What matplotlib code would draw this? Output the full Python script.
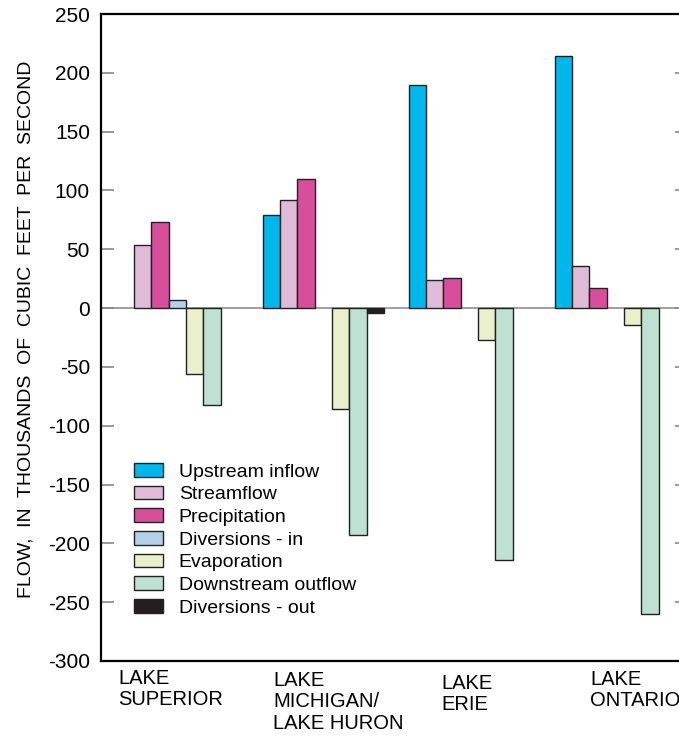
import numpy as np
import matplotlib
matplotlib.use('Agg')
import matplotlib.pyplot as plt
from matplotlib.patches import Patch

plt.rcParams['font.family'] = ['Liberation Sans', 'DejaVu Sans']
plt.rcParams['axes.unicode_minus'] = False

lakes = ['LAKE\nSUPERIOR', 'LAKE\nMICHIGAN/\nLAKE HURON', 'LAKE\nERIE', 'LAKE\nONTARIO']
components = ['Upstream inflow', 'Streamflow', 'Precipitation', 'Diversions - in',
              'Evaporation', 'Downstream outflow', 'Diversions - out']

# thousands of cubic feet per second, one list per component (Superior, Mich/Huron, Erie, Ontario)
upstream_inflow = [0, 79, 190, 214]
streamflow = [54, 92, 24, 36]
precipitation = [73, 110, 26, 17]
diversions_in = [7, 0, 0, 0]
evaporation = [-56, -86, -27, -14]
downstream_outflow = [-82, -193, -214, -260]
diversions_out = [0, -4, 0, 0]

series = [upstream_inflow, streamflow, precipitation, diversions_in,
          evaporation, downstream_outflow, diversions_out]
colors = ['#00b7eb', '#dfbbd8', '#d74f9a', '#b5d0ea', '#eaf0cb', '#bfe1d1', '#231f20']

fig = plt.figure(figsize=(6.79, 7.36), dpi=100)
ax = fig.add_axes([101 / 679, 1 - 661 / 736, 586 / 679, 647 / 736])

w = 0.1185
x = np.arange(len(lakes))
for k, (vals, c) in enumerate(zip(series, colors)):
    xs, hs = [], []
    for i, v in enumerate(vals):
        if v != 0:
            xs.append(x[i] + (k - 3) * w)
            hs.append(v)
    ax.bar(xs, hs, width=w, color=c, edgecolor='#222222', linewidth=1.0, zorder=3)

ax.axhline(0, color='#999999', linewidth=1.3, zorder=1)

ax.set_xlim(-0.523, 3.491)
ax.set_ylim(-300, 247)
ax.set_yticks(np.arange(-300, 251, 50))
ax.tick_params(axis='y', direction='in', length=9, width=1.2, color='#888888',
               labelsize=15, pad=8, right=True, left=True)
ax.set_xticks([])
for s in ['left', 'top', 'bottom']:
    ax.spines[s].set_linewidth(1.6)
ax.spines['right'].set_visible(False)

ax.set_ylabel('FLOW,  IN  THOUSANDS  OF  CUBIC  FEET  PER  SECOND', fontsize=14)
ax.yaxis.set_label_coords(-0.114, 0.512)

# lake names under the axis, left aligned and staggered like the original
offsets = [(-0.406, -0.0124), (-0.345, -0.0155), (-0.194, -0.020), (-0.173, -0.0139)]
for i, name in enumerate(lakes):
    dx, dy = offsets[i]
    ax.text(x[i] + dx, dy, name, transform=ax.get_xaxis_transform(), ha='left', va='top',
            fontsize=14.5, linespacing=1.16)

handles = [Patch(facecolor=c, edgecolor='#222222', linewidth=1.0) for c in colors]
ax.legend(handles, components, loc='upper left', bbox_to_anchor=(0.0433, 0.318),
          frameon=False, fontsize=14, handlelength=1.5, handleheight=0.7,
          labelspacing=0.26, handletextpad=0.8, borderaxespad=0)

fig.savefig('out.png', dpi=100)
